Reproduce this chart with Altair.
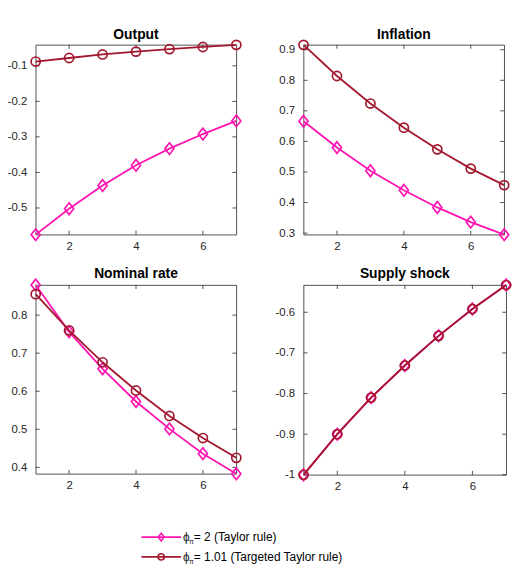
import altair as alt
import pandas as pd

# ---------------- data ----------------
t = [1, 2, 3, 4, 5, 6, 7]

output_taylor = [-0.575, -0.502, -0.437, -0.380, -0.333, -0.292, -0.255]
output_targeted = [-0.088, -0.078, -0.068, -0.060, -0.053, -0.047, -0.041]

infl_taylor = [0.666, 0.580, 0.504, 0.440, 0.384, 0.336, 0.295]
infl_targeted = [0.916, 0.814, 0.724, 0.645, 0.574, 0.511, 0.457]

nom_taylor = [0.879, 0.756, 0.659, 0.573, 0.501, 0.436, 0.383]
nom_targeted = [0.855, 0.760, 0.676, 0.602, 0.535, 0.477, 0.425]

supply_taylor = [-1.000, -0.900, -0.810, -0.731, -0.658, -0.592, -0.533]
supply_targeted = [-1.000, -0.900, -0.810, -0.731, -0.658, -0.592, -0.533]

x_ticks = [2, 4, 6]
output_yticks = [-0.5, -0.4, -0.3, -0.2, -0.1]
infl_yticks = [0.3, 0.4, 0.5, 0.6, 0.7, 0.8, 0.9]
nom_yticks = [0.4, 0.5, 0.6, 0.7, 0.8]
supply_yticks = [-1.0, -0.9, -0.8, -0.7, -0.6]

titles = ["Output", "Inflation", "Nominal rate", "Supply shock"]
legend_labels = ["= 2  (Taylor rule)", "= 1.01 (Targeted Taylor rule)"]

# ---------------- styles ----------------
FONT = "Liberation Sans"
AX = "#262626"
C_TAYLOR = "#FF14B1"
C_TARGET = "#A3182E"
DIAMOND = "M0,-1L0.78,0L0,1L-0.78,0Z"
LABEL_EXPR = "datum.value < 0 ? '-' + format(-datum.value, '~g') : format(datum.value, '~g')"
TICK_FS = 11.5


def panel(title, taylor, targeted, yticks, W, H, extent):
    lo = min(taylor + targeted)
    hi = max(taylor + targeted)
    xs = alt.X("t:Q",
               scale=alt.Scale(domain=[1, 7], nice=False, zero=False),
               axis=alt.Axis(values=x_ticks, title=None, ticks=False, domain=False,
                             grid=False, labelPadding=6, labelFont=FONT,
                             labelFontSize=TICK_FS, labelColor=AX, labelExpr=LABEL_EXPR))
    ys = alt.Y("v:Q",
               scale=alt.Scale(domain=[lo, hi], nice=False, zero=False),
               axis=alt.Axis(values=yticks, title=None, ticks=False, domain=False,
                             grid=False, labelPadding=9, labelFont=FONT,
                             labelFontSize=TICK_FS, labelColor=AX, labelExpr=LABEL_EXPR,
                             minExtent=extent, maxExtent=extent))
    ydf = pd.DataFrame({"v": yticks})
    xdf = pd.DataFrame({"t": x_ticks})
    tick_style = dict(color=AX, strokeWidth=0.8)
    layers = [
        alt.Chart(ydf).mark_rule(**tick_style).encode(y=ys, x=alt.value(0), x2=alt.value(4)),
        alt.Chart(ydf).mark_rule(**tick_style).encode(y=ys, x=alt.value(W - 4), x2=alt.value(W)),
        alt.Chart(xdf).mark_rule(**tick_style).encode(x=xs, y=alt.value(H - 4), y2=alt.value(H)),
        alt.Chart(xdf).mark_rule(**tick_style).encode(x=xs, y=alt.value(0), y2=alt.value(4)),
    ]
    for vals, color, shape, size in [(taylor, C_TAYLOR, DIAMOND, 140),
                                     (targeted, C_TARGET, "circle", 85)]:
        d = pd.DataFrame({"t": t, "v": vals})
        layers.append(alt.Chart(d).mark_line(color=color, strokeWidth=1.8).encode(x=xs, y=ys))
        layers.append(alt.Chart(d).mark_point(color=color, shape=shape, size=size,
                                              filled=False, strokeWidth=1.7, opacity=1)
                      .encode(x=xs, y=ys))
    return alt.layer(*layers).properties(
        width=W, height=H,
        title=alt.Title(title, font=FONT, fontSize=14, fontWeight="bold", color="black",
                        anchor="middle", frame="group", offset=-5),
    )


p1 = panel(titles[0], output_taylor, output_targeted, output_yticks, 203, 192, 28)
p2 = panel(titles[1], infl_taylor, infl_targeted, infl_yticks, 203, 192, 28)
p3 = panel(titles[2], nom_taylor, nom_targeted, nom_yticks, 203, 191, 31)
p4 = panel(titles[3], supply_taylor, supply_targeted, supply_yticks, 205, 192, 28)

row1 = alt.hconcat(p1, p2, spacing=30)
row2 = alt.hconcat(p3, p4, spacing=29)
grid = alt.vconcat(row1, row2, spacing=14)

# ---------------- manual legend ----------------
one = pd.DataFrame({"a": [0]})
LX0, LX1 = 107, 147
LMID = (LX0 + LX1) / 2
TX = 149
rows_y = [31, 51]
leg_layers = []
for i, (color, shape, size) in enumerate([(C_TAYLOR, DIAMOND, 60), (C_TARGET, "circle", 40)]):
    yy = rows_y[i]
    leg_layers.append(alt.Chart(one).mark_rule(color=color, strokeWidth=1.8)
                      .encode(x=alt.value(LX0), x2=alt.value(LX1), y=alt.value(yy)))
    leg_layers.append(alt.Chart(one).mark_point(color=color, shape=shape, size=size, filled=False,
                                                strokeWidth=1.6, opacity=1)
                      .encode(x=alt.value(LMID), y=alt.value(yy)))
    leg_layers.append(alt.Chart(one).mark_text(text="ϕ", font=FONT, fontSize=12, color=AX,
                                               align="left", baseline="middle")
                      .encode(x=alt.value(TX), y=alt.value(yy)))
    leg_layers.append(alt.Chart(one).mark_text(text="π", font=FONT, fontSize=7, color=AX,
                                               align="left", baseline="middle")
                      .encode(x=alt.value(TX + 6), y=alt.value(yy + 5)))
    leg_layers.append(alt.Chart(one).mark_text(text=legend_labels[i], font=FONT, fontSize=12,
                                               color="black", align="left", baseline="middle")
                      .encode(x=alt.value(TX + 11), y=alt.value(yy)))

legend = alt.layer(*leg_layers).properties(
    width=480, height=55, view=alt.ViewBackground(strokeOpacity=0))

chart = alt.vconcat(grid, legend, spacing=14).properties(
    padding={"left": -4, "top": 16, "right": 5, "bottom": 0}
).configure_view(stroke=AX, strokeWidth=0.8)

chart.save("out.html", embed_options={"renderer": "svg", "actions": False})
